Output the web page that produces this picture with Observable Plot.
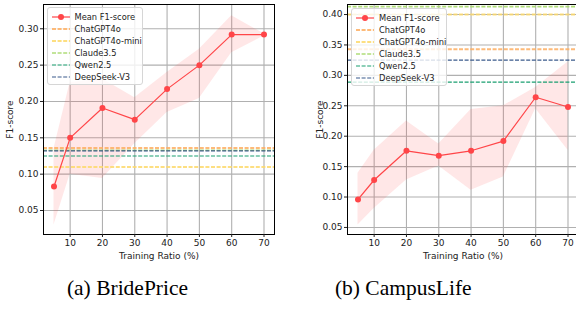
<!DOCTYPE html>
<html>
<head>
<meta charset="utf-8">
<script src="https://cdn.jsdelivr.net/npm/d3@7"></script>
<script src="https://cdn.jsdelivr.net/npm/@observablehq/plot@0.6"></script>
<style>
  body { margin: 0; background: #fff; }
  #wrap { position: relative; width: 576px; height: 311px; overflow: hidden; background: #fff; font-family: "DejaVu Sans", sans-serif; }
  .panel { position: absolute; top: 0; }
  .legend { position: absolute; width: 96px; height: 78px; background: rgba(255,255,255,0.8); border: 1px solid #d6d6d6; border-radius: 3px; box-sizing: border-box; }
  .row { position: absolute; left: 0; height: 12px; font-size: 8.3px; color: #222; white-space: nowrap; }
  .row svg { position: absolute; left: 3px; top: 0; }
  .row span { position: absolute; left: 27px; top: 0; line-height: 12px; }
  .caption { position: absolute; font-family: "Liberation Serif", "Times New Roman", serif; font-size: 21.5px; color: #000; transform: translateX(-50%); white-space: nowrap; }
</style>
</head>
<body>
<div id="wrap"></div>
<script>
// ---- data ----
const ratios = [5, 10, 20, 30, 40, 50, 60, 70];
const xTicks = [10, 20, 30, 40, 50, 60, 70];

const brideMean = [0.083, 0.150, 0.191, 0.175, 0.217, 0.250, 0.292, 0.292];
const brideLow  = [0.030, 0.100, 0.094, 0.142, 0.185, 0.204, 0.267, 0.290];
const brideHigh = [0.135, 0.226, 0.231, 0.205, 0.240, 0.272, 0.318, 0.293];
const brideYTicks = [0.05, 0.10, 0.15, 0.20, 0.25, 0.30];

const campusMean = [0.096, 0.128, 0.176, 0.168, 0.176, 0.192, 0.264, 0.248];
const campusLow  = [0.054, 0.081, 0.128, 0.151, 0.111, 0.133, 0.245, 0.177];
const campusHigh = [0.139, 0.177, 0.225, 0.187, 0.244, 0.250, 0.280, 0.322];
const campusYTicks = [0.05, 0.10, 0.15, 0.20, 0.25, 0.30, 0.35, 0.40];

const models = ["ChatGPT4o", "ChatGPT4o-mini", "Claude3.5", "Qwen2.5", "DeepSeek-V3"];
const brideBase  = [0.136, 0.110, 0.133, 0.125, 0.132];
const campusBase = [0.343, 0.400, 0.413, 0.289, 0.325];
const modelColors = ["#fdae61", "#fdd96b", "#a6d96a", "#1a9f70", "#3b5b8c"];
const modelWidths = [2, 2, 1.6, 1.2, 1.2];
const modelOpacity = [0.85, 0.85, 0.9, 1, 1];

const meanColor = "#ff4548";
const captions = ["(a) BridePrice", "(b) CampusLife"];

// ---- drawing ----
function panel({mean, low, high, base, yDomain, yTicks, width, marginLeft, marginRight, labelOffset}) {
  const rows = ratios.map((r, i) => ({r, m: mean[i], lo: low[i], hi: high[i]}));
  return Plot.plot({
    width, height: 262,
    marginLeft, marginRight, marginTop: 4, marginBottom: 28,
    style: {fontFamily: "DejaVu Sans", fontSize: "9px", color: "#222", background: "transparent", overflow: "visible"},
    x: {domain: [1.75, 73.25]},
    y: {domain: yDomain},
    marks: [
      Plot.gridX(xTicks, {stroke: "#b0b0b0", strokeOpacity: 1, strokeWidth: 1.1}),
      Plot.gridY(yTicks, {stroke: "#b0b0b0", strokeOpacity: 1, strokeWidth: 1.1}),
      Plot.areaY(rows, {x: "r", y1: "lo", y2: "hi", fill: meanColor, fillOpacity: 0.13}),
      ...base.map((v, i) => Plot.ruleY([v], {stroke: modelColors[i], strokeWidth: modelWidths[i], strokeOpacity: modelOpacity[i], strokeDasharray: "4,1.6"})),
      Plot.line(rows, {x: "r", y: "m", stroke: meanColor, strokeWidth: 1.2}),
      Plot.dot(rows, {x: "r", y: "m", fill: meanColor, r: 3}),
      Plot.frame({stroke: "#000", strokeWidth: 1}),
      Plot.axisX(xTicks, {tickSize: 3, tickPadding: 2, label: "Training Ratio (%)", labelAnchor: "center", labelArrow: "none", labelOffset: 24}),
      Plot.axisY(yTicks, {tickSize: 3, tickPadding: 2, tickFormat: d3.format(".2f"), label: "F1-score", labelAnchor: "center", labelArrow: "none", labelOffset: labelOffset})
    ]
  });
}

function legend(left, top) {
  const div = document.createElement("div");
  div.className = "legend";
  div.style.left = left + "px";
  div.style.top = top + "px";
  const entries = [{name: "Mean F1-score", mean: true}].concat(models.map((m, i) => ({name: m, i})));
  entries.forEach((e, k) => {
    const row = document.createElement("div");
    row.className = "row";
    row.style.top = (3 + k * 12.1) + "px";
    let sample;
    if (e.mean) {
      sample = `<svg width="20" height="12"><line x1="1" x2="19" y1="6" y2="6" stroke="${meanColor}" stroke-width="1.2"/><circle cx="10" cy="6" r="3" fill="${meanColor}"/></svg>`;
    } else {
      sample = `<svg width="20" height="12"><line x1="1" x2="19" y1="6" y2="6" stroke="${modelColors[e.i]}" stroke-opacity="${modelOpacity[e.i]}" stroke-width="${modelWidths[e.i]}" stroke-dasharray="4,1.6"/></svg>`;
    }
    row.innerHTML = sample + `<span>${e.name}</span>`;
    div.appendChild(row);
  });
  return div;
}

const wrap = document.getElementById("wrap");

const p1 = panel({mean: brideMean, low: brideLow, high: brideHigh, base: brideBase,
  yDomain: [0.017, 0.3334], yTicks: brideYTicks, width: 288, marginLeft: 43, marginRight: 14, labelOffset: 37});
p1.classList.add("panel");
p1.style.left = "0px";
wrap.appendChild(p1);

const p2 = panel({mean: campusMean, low: campusLow, high: campusHigh, base: campusBase,
  yDomain: [0.0384, 0.4165], yTicks: campusYTicks, width: 292, marginLeft: 59, marginRight: 2, labelOffset: 31});
p2.classList.add("panel");
p2.style.left = "288px";
wrap.appendChild(p2);

wrap.appendChild(legend(46.5, 6.5));
wrap.appendChild(legend(351, 7.5));

[[127.5, captions[0]], [403.3, captions[1]]].forEach(([cx, t]) => {
  const c = document.createElement("div");
  c.className = "caption";
  c.style.left = cx + "px";
  c.style.top = "276px";
  c.textContent = t;
  wrap.appendChild(c);
});
</script>
</body>
</html>
